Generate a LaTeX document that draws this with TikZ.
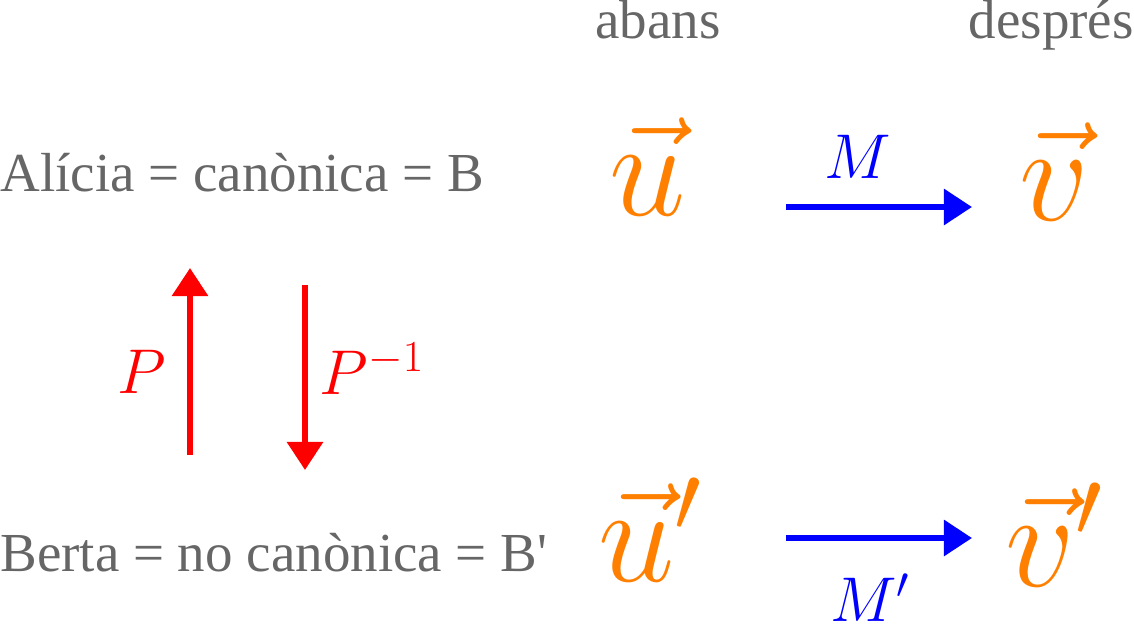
\documentclass[tikz,border=0pt]{standalone}
\usepackage{fix-cm}
\usepackage{fontspec}
\setmainfont{Liberation Serif}
\usetikzlibrary{arrows.meta}
\definecolor{gris}{HTML}{666666}
\definecolor{taronja}{HTML}{FF7F00}
\tikzset{
  texte/.style={text=gris, inner sep=0pt, font=\fontsize{31.3}{36}\selectfont},
  vecteur/.style={text=taronja, inner sep=0pt, font=\fontsize{78}{90}\selectfont},
  etiq/.style={inner sep=0pt, font=\fontsize{36}{42}\selectfont},
  fleche/.style={line width=3.4pt, -{Triangle[length=16pt,width=20pt]}}
}
\begin{document}
\begin{tikzpicture}[x=0.02cm, y=-0.02cm]
    \useasboundingbox (0,0) rectangle (1134,623);

    % Titres des colonnes
    \node[texte, anchor=base] (abans) at (658,38) {abans};
    \node[texte, anchor=base east] (despres) at (1134,38) {després};

    % Bases
    \node[texte, anchor=base west] (alicia) at (0,191) {Alícia = canònica = B};
    \node[texte, anchor=base west] (berta) at (0,571) {Berta = no canònica = B\textquotesingle};

    % Vecteurs
    \node[vecteur, anchor=base] (u) at (648,215) {$\vec{u}$};
    \node[vecteur, anchor=base] (v) at (1054,220) {$\vec{v}$};
    \node[vecteur, anchor=base] (up) at (650,581) {$\vec{u}'$};
    \node[vecteur, anchor=base] (vp) at (1054,586) {$\vec{v}'$};

    % Changement de base
    \coordinate (P1) at (190,455);
    \coordinate (P2) at (190,268);
    \coordinate (Q1) at (305,285);
    \coordinate (Q2) at (305,470);
    \draw[fleche, red] (P1) -- (P2);
    \draw[fleche, red] (Q1) -- (Q2);
    \node[etiq, text=red] (P) at (142,372) {$P$};
    \node[etiq, text=red] (Pinv) at (372,369) {$P^{-1}$};

    % Applications M et M'
    \coordinate (M1) at (786,207);
    \coordinate (M2) at (972,207);
    \coordinate (N1) at (786,538);
    \coordinate (N2) at (972,538);
    \draw[fleche, blue] (M1) -- (M2);
    \draw[fleche, blue] (N1) -- (N2);
    \node[etiq, text=blue] (M) at (858,157) {$M$};
    \node[etiq, text=blue] (Mp) at (870,598) {$M'$};
\end{tikzpicture}
\end{document}
